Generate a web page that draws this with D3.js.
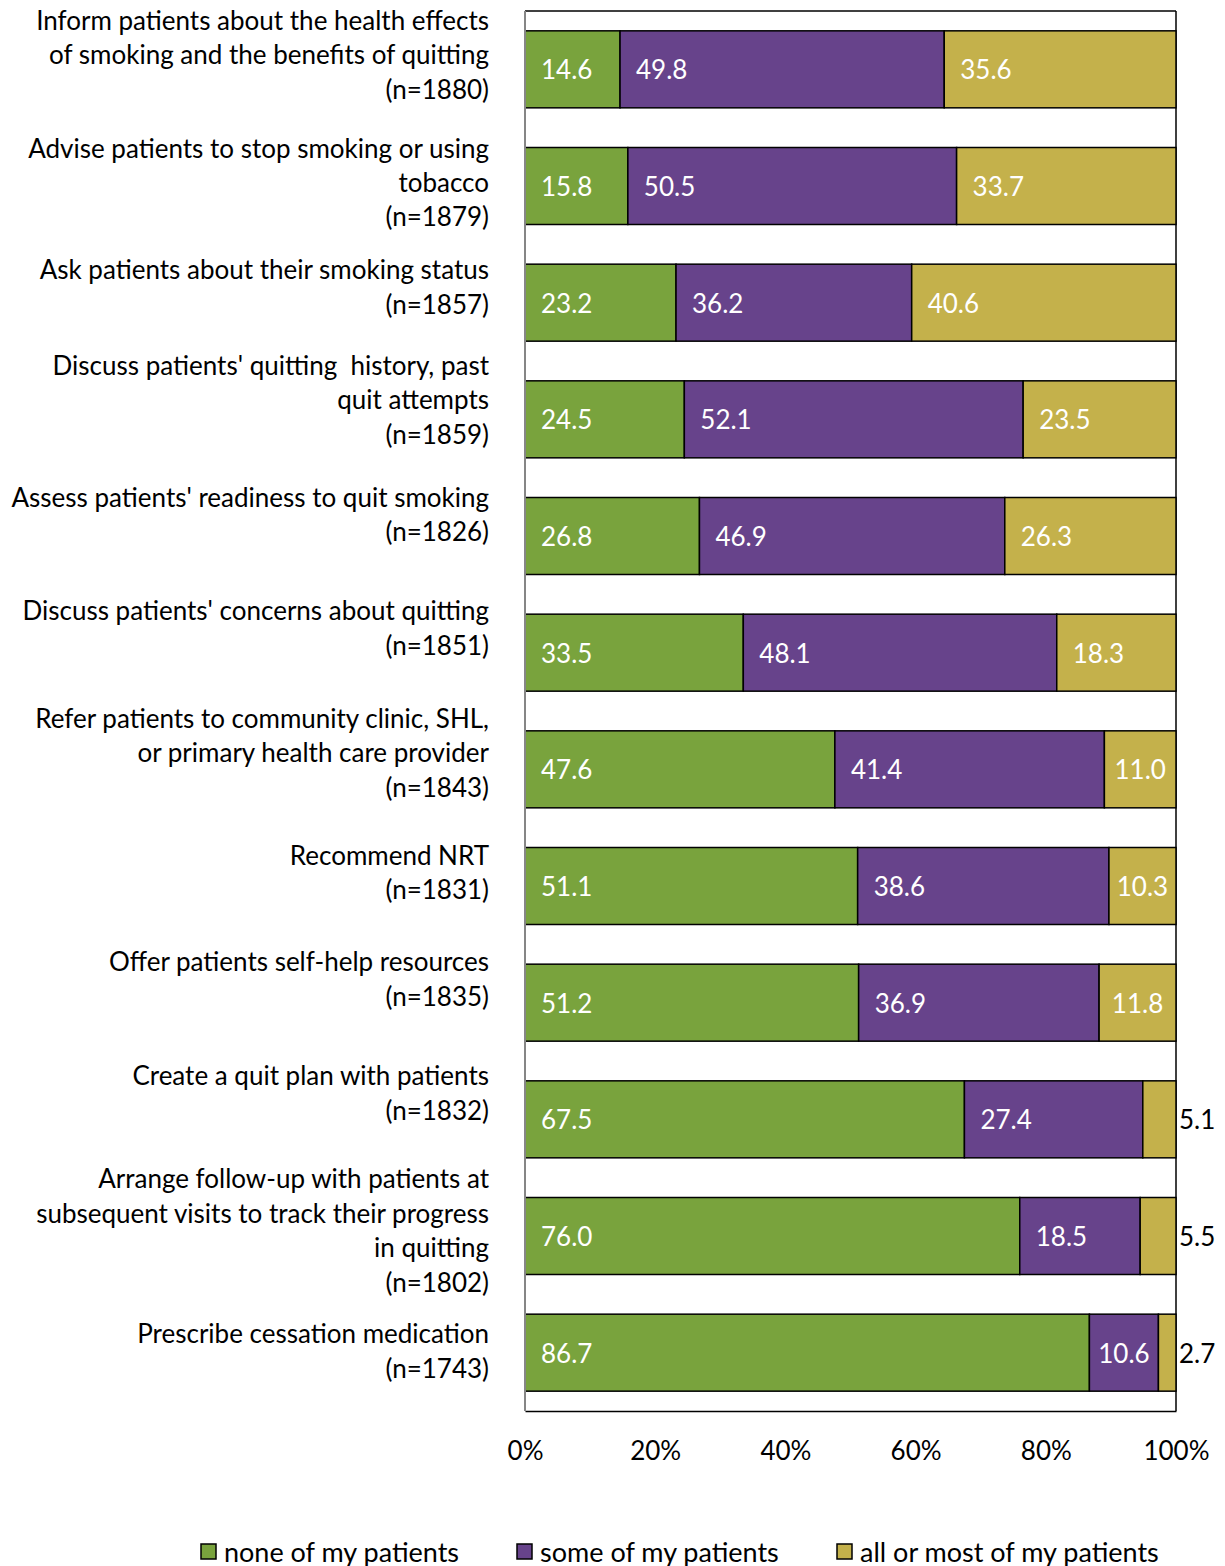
<!DOCTYPE html>
<html>
<head>
<meta charset="utf-8">
<script src="https://cdn.jsdelivr.net/npm/d3@7"></script>
<style>
  html, body { margin: 0; padding: 0; background: #fff; }
  svg { display: block; font-family: Lato, "Open Sans", sans-serif; }
  text { white-space: pre; }
</style>
</head>
<body>
<svg id="chart" width="1225" height="1566"></svg>
<script>
// Category labels (one entry per wrapped line)
const categories = [
  ["Inform patients about the health effects", "of smoking and the benefits of quitting", "(n=1880)"],
  ["Advise patients to stop smoking or using", "tobacco", "(n=1879)"],
  ["Ask patients about their smoking status", "(n=1857)"],
  ["Discuss patients' quitting  history, past", "quit attempts", "(n=1859)"],
  ["Assess patients' readiness to quit smoking", "(n=1826)"],
  ["Discuss patients' concerns about quitting", "(n=1851)"],
  ["Refer patients to community clinic, SHL,", "or primary health care provider", "(n=1843)"],
  ["Recommend NRT", "(n=1831)"],
  ["Offer patients self-help resources", "(n=1835)"],
  ["Create a quit plan with patients", "(n=1832)"],
  ["Arrange follow-up with patients at", "subsequent visits to track their progress", "in quitting", "(n=1802)"],
  ["Prescribe cessation medication", "(n=1743)"]
];

const seriesNames = ["none of my patients", "some of my patients", "all or most of my patients"];

const noneValues = [14.6, 15.8, 23.2, 24.5, 26.8, 33.5, 47.6, 51.1, 51.2, 67.5, 76.0, 86.7];
const someValues = [49.8, 50.5, 36.2, 52.1, 46.9, 48.1, 41.4, 38.6, 36.9, 27.4, 18.5, 10.6];
const allValues  = [35.6, 33.7, 40.6, 23.5, 26.3, 18.3, 11.0, 10.3, 11.8, 5.1, 5.5, 2.7];

const tickValues = [0, 0.2, 0.4, 0.6, 0.8, 1.0];

// Layout
const colors = ["#79a33d", "#67438b", "#c4b14b"];
const labelLift = [15, 4, 16, 20, 22, 25, 17, 14, 24, 27, 6, 2];
const plotLeft = 525, plotRight = 1176, plotTop = 11, plotBottom = 1411;
const fontSize = 26, legendFont = 27, lineH = 34.4;

const svg = d3.select("#chart");

const keys = ["none", "some", "all"];
const rows = categories.map((c, i) => ({
  idx: i,
  none: noneValues[i], some: someValues[i], all: allValues[i]
}));

// 100% stacked: normalise each row by its own total
const stack = d3.stack().keys(keys).offset(d3.stackOffsetExpand);
const layers = stack(rows);

const x = d3.scaleLinear().domain([0, 1]).range([plotLeft, plotRight]);
const y = d3.scaleBand().domain(d3.range(categories.length)).range([plotTop, plotBottom])
  .paddingInner(0.34).paddingOuter(0.17);

// Plot frame
svg.append("line").attr("x1", plotLeft).attr("x2", plotRight).attr("y1", plotTop).attr("y2", plotTop)
  .attr("stroke", "#000").attr("stroke-width", 1.5);
svg.append("line").attr("x1", plotRight).attr("x2", plotRight).attr("y1", plotTop).attr("y2", plotBottom)
  .attr("stroke", "#000").attr("stroke-width", 1.5);

// Bars
const g = svg.append("g");
layers.forEach((layer, li) => {
  g.selectAll(null).data(layer).enter().append("rect")
    .attr("x", d => x(d[0]))
    .attr("y", (d, i) => y(i))
    .attr("width", d => x(d[1]) - x(d[0]))
    .attr("height", y.bandwidth())
    .attr("fill", colors[li])
    .attr("stroke", "#000")
    .attr("stroke-width", 1.5);
});

// Value labels
const valueArrays = [noneValues, someValues, allValues];
layers.forEach((layer, li) => {
  layer.forEach((d, i) => {
    const v = valueArrays[li][i];
    const x0 = x(d[0]), w = x(d[1]) - x(d[0]);
    const t = svg.append("text")
      .attr("y", y(i) + y.bandwidth() / 2)
      .attr("dominant-baseline", "central")
      .attr("font-size", fontSize)
      .text(v.toFixed(1));
    const tw = t.node().getComputedTextLength();
    if (w < tw + 8) {
      t.attr("x", plotRight + 3).attr("fill", "#000");
    } else {
      t.attr("x", x0 + Math.min(16, (w - tw) / 2)).attr("fill", "#fff");
    }
  });
});

// Bottom axis (labels only) and axis lines
const xAxis = d3.axisBottom(x).tickValues(tickValues).tickFormat(d3.format(".0%")).tickSize(0).tickPadding(0);
const ax = svg.append("g").attr("transform", `translate(0,${plotBottom})`).call(xAxis);
ax.select(".domain").attr("stroke", "#000").attr("stroke-width", 1.5);
ax.selectAll("text").attr("font-size", fontSize).attr("fill", "#000")
  .attr("font-family", "Lato, 'Open Sans', sans-serif")
  .attr("dy", null).attr("y", 39).attr("dominant-baseline", "central");

svg.append("line").attr("x1", plotLeft).attr("x2", plotLeft).attr("y1", plotTop).attr("y2", plotBottom)
  .attr("stroke", "#868686").attr("stroke-width", 2);

// Category labels
categories.forEach((lines, i) => {
  const cy = y(i) + y.bandwidth() / 2 - labelLift[i];
  const firstY = cy - (lines.length - 1) * lineH / 2;
  const t = svg.append("text")
    .attr("text-anchor", "end")
    .attr("font-size", fontSize)
    .attr("fill", "#000");
  lines.forEach((ln, j) => {
    t.append("tspan").attr("x", 489).attr("y", firstY + j * lineH)
      .attr("dominant-baseline", "central").text(ln);
  });
});

// Legend
const legendX = [201, 517, 837];
const legend = svg.append("g");
seriesNames.forEach((name, i) => {
  legend.append("rect").attr("x", legendX[i]).attr("y", 1544).attr("width", 15).attr("height", 15)
    .attr("fill", colors[i]).attr("stroke", "#000").attr("stroke-width", 1.5);
  legend.append("text").attr("x", legendX[i] + 23).attr("y", 1551)
    .attr("dominant-baseline", "central").attr("font-size", legendFont).text(name);
});
</script>
</body>
</html>
